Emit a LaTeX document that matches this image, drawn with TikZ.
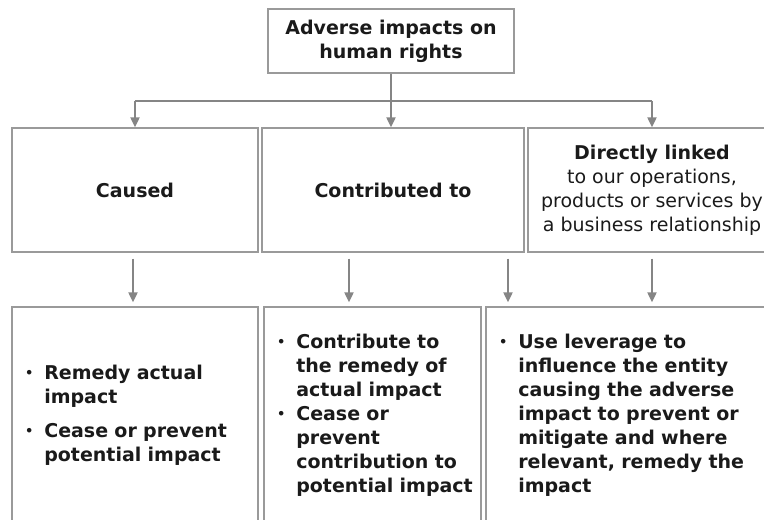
\documentclass[tikz,border=0pt]{standalone}
\usepackage{fontspec}
\setmainfont{DejaVu Sans}
\usetikzlibrary{arrows.meta,calc}

\definecolor{boxgray}{HTML}{9A9A9A}
\definecolor{arrgray}{HTML}{858585}
\definecolor{txt}{HTML}{1A1A1A}
\newcommand{\bulletmark}{\raisebox{2pt}{\fontsize{13}{13}\selectfont •}}

\begin{document}
\begin{tikzpicture}[
	  x=1pt, y=1pt,
	  every node/.style={font=\fontsize{19}{24}\selectfont, text=txt},
	  title/.style={font=\fontsize{19}{24}\selectfont\bfseries},
	  box/.style={
		  draw=boxgray,
		  line width=1.3pt,
		  inner sep=0pt
	  },
	  actbox/.style={
		  box,
		  align=left,
		  inner xsep=13pt,
		  font=\fontsize{19}{24}\selectfont\bfseries
	  },
	  arr/.style={
		  draw=arrgray,
		  line width=2pt,
		  -{Triangle[length=10pt,width=9pt]}
	  },
	  busline/.style={draw=arrgray, line width=2pt}
  ]
  \useasboundingbox (0,0) rectangle (764,-520);

  % Boxes
  \node [
	  box,
	  title,
	  align=center,
	  minimum width=246,
	  minimum height=64
  ] (impacts) at (391,-41) {Adverse impacts on\\human rights};

  \node [
	  box,
	  title,
	  minimum width=246,
	  minimum height=124
  ] (caused) at (135,-190) {Caused};
  \node [
	  box,
	  title,
	  minimum width=262,
	  minimum height=124
  ] (contrib) at (393,-190) {Contributed to};
  \node [
	  box,
	  align=center,
	  minimum width=248,
	  minimum height=124
  ] (linked) at (652,-190) {\textbf{Directly linked}\\to our operations,\\products or services by\\a business relationship};

  \node [
	  actbox,
	  text width=220,
	  minimum width=246,
	  minimum height=218
  ] (causedact) at (135,-416) {%
    \begin{tabular}{@{}l@{\hspace{11pt}}l@{}}
      \bulletmark & Remedy actual\\
                  & impact\\[10pt]
      \bulletmark & Cease or prevent\\
                  & potential impact
    \end{tabular}};
  \node [
	  actbox,
	  text width=191,
	  minimum width=217,
	  minimum height=218
  ] (contribact) at (372.5,-416) {%
    \begin{tabular}{@{}l@{\hspace{11pt}}l@{}}
      \bulletmark & Contribute to\\
                  & the remedy of\\
                  & actual impact\\
      \bulletmark & Cease or\\
                  & prevent\\
                  & contribution to\\
                  & potential impact
    \end{tabular}};
  \node [
	  actbox,
	  text width=268,
	  minimum width=294,
	  minimum height=218
  ] (linkedact) at (633,-416) {%
    \begin{tabular}{@{}l@{\hspace{11pt}}l@{}}
      \bulletmark & Use leverage to\\
                  & influence the entity\\
                  & causing the adverse\\
                  & impact to prevent or\\
                  & mitigate and where\\
                  & relevant, remedy the\\
                  & impact
    \end{tabular}};

  % Connecting Arrows
  \coordinate (bus) at (391,-101);
  \draw[arr] (impacts.south) -- (impacts.south |- contrib.north);
  \draw[busline] (bus -| caused.north) -- (bus -| linked.north);
  \draw[arr] (bus -| caused.north) -- (caused.north);
  \draw[arr] (bus -| linked.north) -- (linked.north);

  \draw[arr] ($(caused.south)+(-2,-6)$) -- ($(caused.south |- causedact.north)+(-2,4)$);
  \draw[arr] ($(contrib.south)+(-44,-6)$) -- ($(contrib.south |- contribact.north)+(-44,4)$);
  \draw[arr] ($(contrib.south)+(115,-6)$) -- ($(contrib.south |- linkedact.north)+(115,4)$);
  \draw[arr] ($(linked.south)+(0,-6)$) -- ($(linked.south |- linkedact.north)+(0,4)$);

  \end{tikzpicture}
\end{document}
